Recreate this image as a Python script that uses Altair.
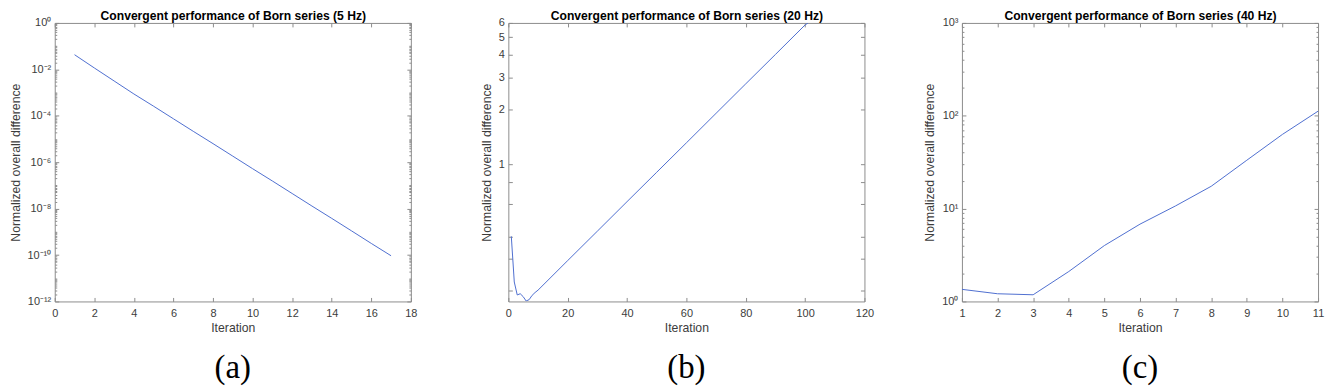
import altair as alt
import pandas as pd

# ---------------- data ----------------
# (a) 5 Hz
a_iter = [1, 2, 3, 4, 5, 6, 7, 8, 9, 10, 11, 12, 13, 14, 15, 16, 17]
a_vals = [0.0427, 0.0115, 3.16e-3, 8.7e-4, 2.57e-4, 7.4e-5, 2.14e-5, 6.3e-6,
          1.82e-6, 5.25e-7, 1.55e-7, 4.47e-8, 1.29e-8, 3.8e-9, 1.1e-9,
          3.16e-10, 9.3e-11]
# (b) 20 Hz
b_iter = [1, 2, 3, 4, 5, 6, 7, 8, 9, 10, 20, 30, 40, 50, 60, 70, 80, 90, 100, 101]
b_vals = [0.40, 0.224, 0.190, 0.193, 0.186, 0.176, 0.179, 0.189, 0.196, 0.202,
          0.294, 0.427, 0.621, 0.902, 1.31, 1.905, 2.77, 4.02, 5.85, 6.0]
# (c) 40 Hz
c_iter = [1, 2, 3, 4, 5, 6, 7, 8, 9, 10, 11]
c_vals = [1.35, 1.21, 1.18, 2.1, 4.0, 6.8, 10.7, 17.4, 33.2, 63.0, 112.0]

titles = ["Convergent performance of Born series (5 Hz)",
          "Convergent performance of Born series (20 Hz)",
          "Convergent performance of Born series (40 Hz)"]
captions = ["(a)", "(b)", "(c)"]

a_xticks = [0, 2, 4, 6, 8, 10, 12, 14, 16, 18]
b_xticks = [0, 20, 40, 60, 80, 100, 120]
c_xticks = [1, 2, 3, 4, 5, 6, 7, 8, 9, 10, 11]

a_exps = [-12, -10, -8, -6, -4, -2, 0]
c_exps = [0, 1, 2, 3]
b_yticks = [0.2, 0.3, 0.4, 0.6, 0.8, 1, 2, 3, 4, 5, 6]

# ---------------- styling ----------------
LINE_COLOR = "#4f6fd0"
AXIS_COLOR = "#8c8c8c"
LABEL_COLOR = "#3c3c3c"
FONT = "Liberation Sans"
W, H = 358, 280
TICK = 4
MINOR = 2

SUP = {"0": "\u2070", "1": "\u00b9", "2": "\u00b2", "3": "\u00b3", "4": "\u2074",
       "5": "\u2075", "6": "\u2076", "7": "\u2077", "8": "\u2078", "9": "\u2079",
       "-": "\u207b"}


def sup(e):
    return "".join(SUP[ch] for ch in str(e))


def log_label_expr(exps):
    expr = "'10" + sup(exps[-1]) + "'"
    for e in reversed(exps[:-1]):
        expr = f"datum.value < {10 ** (e + 0.5)!r} ? '10{sup(e)}' : " + expr
    return expr


def minor_ticks(lo_exp, hi_exp, majors):
    vals = []
    for e in range(lo_exp, hi_exp):
        for k in range(1, 10):
            v = k * 10.0 ** e
            if k == 1 and e in majors:
                continue
            vals.append(v)
    return vals


def axis_common(**kw):
    base = dict(domain=False, grid=False, tickColor=AXIS_COLOR, tickWidth=1,
                labelFont=FONT, labelFontSize=11, labelColor=LABEL_COLOR,
                labelFlush=False, labelOverlap=False,
                titleFont=FONT, titleColor=LABEL_COLOR, titleFontWeight="normal",
                titleFontSize=12.3)
    base.update(kw)
    return alt.Axis(**base)


def panel(iters, vals, xdom, ydom, xticks, ymajor, ylabel_expr, yminor, title, caption):
    df = pd.DataFrame({"iter": iters, "val": vals})
    base = alt.Chart(df)
    xs = alt.Scale(domain=xdom, nice=False, zero=False)
    ys = alt.Scale(type="log", domain=ydom, nice=False)

    main = base.mark_line(color=LINE_COLOR, strokeWidth=1, clip=True).encode(
        x=alt.X("iter:Q", scale=xs,
                axis=axis_common(orient="bottom", values=xticks, title="Iteration",
                                 tickSize=TICK, offset=-TICK, labelPadding=6,
                                 titlePadding=3)),
        y=alt.Y("val:Q", scale=ys,
                axis=axis_common(orient="left", values=ymajor, labelExpr=ylabel_expr,
                                 title="Normalized overall difference",
                                 tickSize=TICK, offset=-TICK, labelPadding=4,
                                 titlePadding=5)),
    )
    mirror = base.mark_line(opacity=0).encode(
        x=alt.X("iter:Q", scale=xs,
                axis=axis_common(orient="top", values=xticks, labels=False,
                                 title=title, titleFontWeight="bold",
                                 titleColor="#000000", titleFontSize=12.2,
                                 tickSize=TICK, offset=-TICK, titlePadding=0)),
        y=alt.Y("val:Q", scale=ys,
                axis=axis_common(orient="right", values=ymajor, labels=False,
                                 title=None, tickSize=TICK, offset=-TICK)),
    )
    layers = [main, mirror]
    if yminor:
        for side in ["left", "right"]:
            layers.append(base.mark_line(opacity=0).encode(
                x=alt.X("iter:Q", scale=xs, axis=None),
                y=alt.Y("val:Q", scale=ys,
                        axis=axis_common(orient=side, values=yminor, labels=False,
                                         title=None, tickSize=MINOR, offset=-MINOR)),
            ))
    return alt.layer(*layers).resolve_axis(x="independent", y="independent").properties(
        width=W, height=H,
        title=alt.TitleParams(caption, orient="bottom", font="Liberation Serif",
                              fontSize=33, fontWeight="normal", color="#000000",
                              frame="group", anchor="middle", offset=19),
    )


pa = panel(a_iter, a_vals, [0, 18], [1e-12, 1], a_xticks,
           [10.0 ** e for e in a_exps], log_label_expr(a_exps),
           minor_ticks(-12, 0, a_exps), titles[0], captions[0])
pb = panel(b_iter, b_vals, [0, 120], [0.175, 6], b_xticks,
           b_yticks, "datum.value >= 1 ? format(datum.value, 'd') : ''",
           None, titles[1], captions[1])
pc = panel(c_iter, c_vals, [1, 11], [1, 1000], c_xticks,
           [10.0 ** e for e in c_exps], log_label_expr(c_exps),
           minor_ticks(0, 3, c_exps), titles[2], captions[2])

chart = alt.hconcat(pa, pb, pc, spacing=98, bounds="flush").configure_view(
    stroke=AXIS_COLOR, strokeWidth=1
).properties(padding=0)

chart.save("out.html", embed_options={"renderer": "svg", "actions": False})
